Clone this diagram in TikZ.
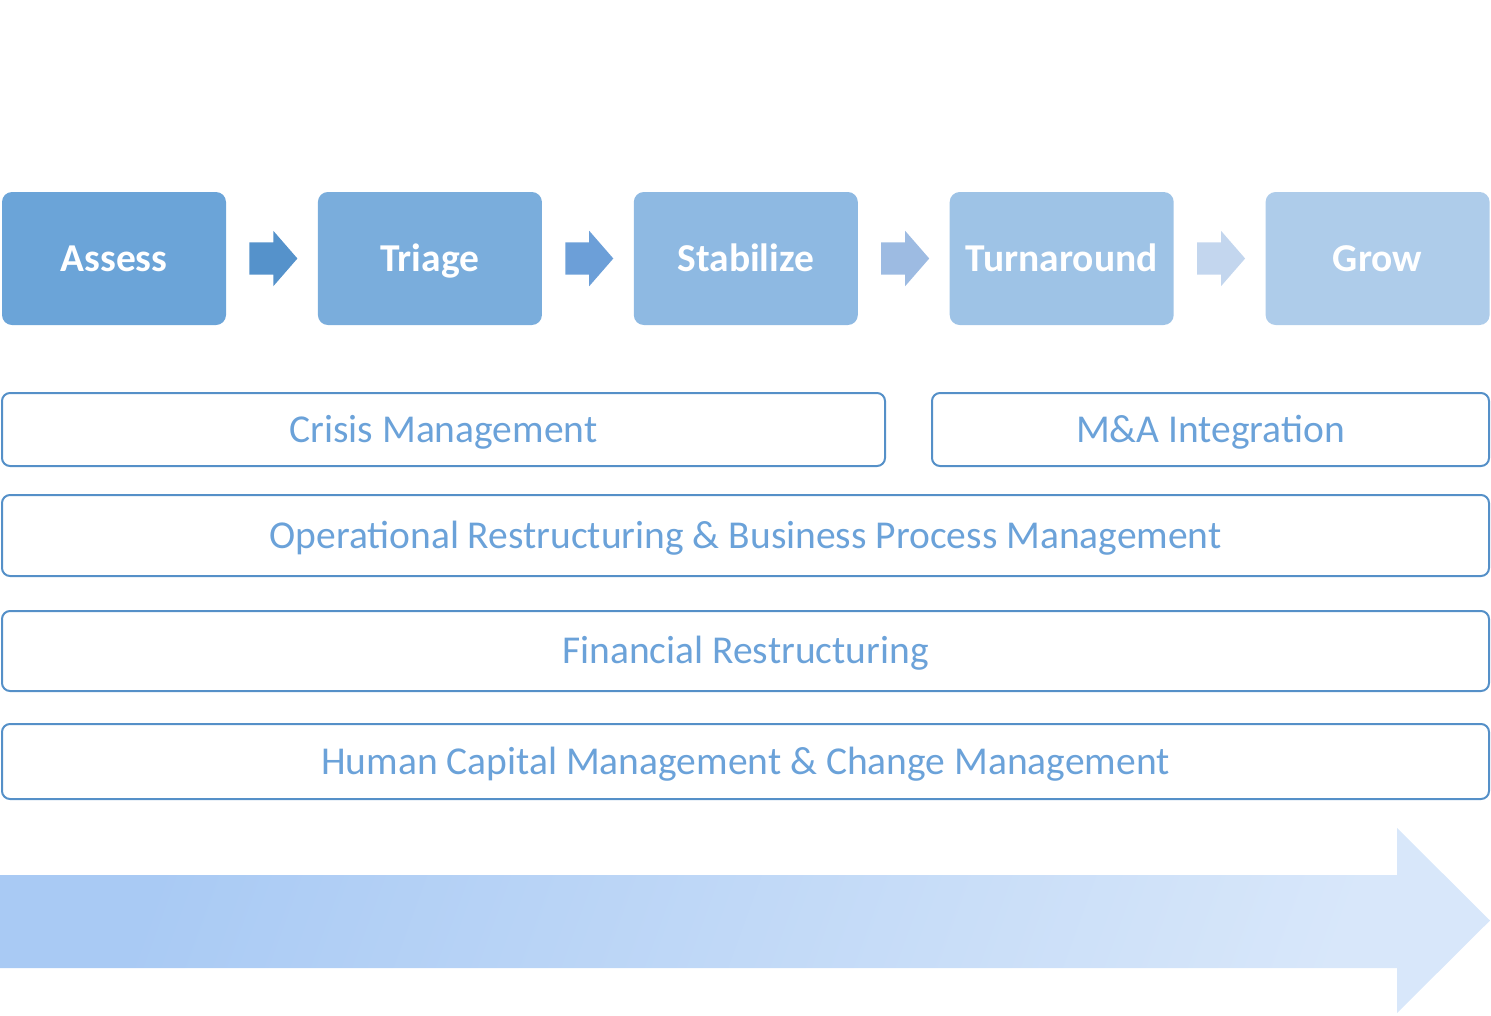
\documentclass[tikz,border=0pt]{standalone}
\usepackage{fontspec}
\setmainfont{Carlito}
\usetikzlibrary{positioning,shapes.arrows}
\definecolor{phaseA}{HTML}{6BA4D8}
\definecolor{phaseB}{HTML}{7AADDC}
\definecolor{phaseC}{HTML}{8EB9E2}
\definecolor{phaseD}{HTML}{9EC3E6}
\definecolor{phaseE}{HTML}{AECCEA}
\definecolor{arrowA}{HTML}{5592CB}
\definecolor{arrowB}{HTML}{6C9FD8}
\definecolor{arrowC}{HTML}{9DBBE2}
\definecolor{arrowD}{HTML}{C3D6EE}
\definecolor{arealine}{HTML}{5590C8}
\definecolor{areatext}{HTML}{6BA2D9}
\definecolor{flowleft}{HTML}{A9CAF4}
\definecolor{flowright}{HTML}{D8E7FA}
\begin{document}
\begin{tikzpicture}[x=1pt, y=-1pt, node distance=91.5pt,
                    phase node/.style={rectangle, rounded corners=10pt, minimum width=224pt,
                      minimum height=133pt, inner sep=0pt, text=white, text height=31pt, text depth=6pt,
                      font=\fontsize{39.5}{47}\selectfont\bfseries},
                    phase arrow/.style={single arrow, minimum height=48pt, minimum width=55pt,
                      single arrow head extend=11.5pt, single arrow tip angle=98,
                      inner xsep=0pt, inner ysep=16pt},
                    area node/.style={rectangle, rounded corners=8pt, draw=arealine, line width=2pt,
                      inner sep=0pt, text=areatext, text height=31pt, text depth=6pt,
                      font=\fontsize{39.5}{47}\selectfont}]

  \useasboundingbox (0,0) rectangle (1491,1015);

  % phases
  \node[phase node, fill=phaseA] (assess) at (114,258.5) {Assess};
  \node[phase node, fill=phaseB] (triage) [right=of assess] {Triage};
  \node[phase node, fill=phaseC] (stab) [right=of triage] {Stabilize};
  \node[phase node, fill=phaseD] (turn) [right=of stab] {Turnaround};
  \node[phase node, fill=phaseE] (grow) [right=of turn] {Grow};

  \node[phase arrow, fill=arrowA, anchor=west] (at) [right=23pt of assess] {};
  \node[phase arrow, fill=arrowB, anchor=west] (ts) [right=23pt of triage] {};
  \node[phase arrow, fill=arrowC, anchor=west] (st) [right=23pt of stab] {};
  \node[phase arrow, fill=arrowD, anchor=west] (tg) [right=23pt of turn] {};

  % service areas
  \node[area node, minimum width=883pt, minimum height=73pt] (crisis) at (443.5,429.5) {Crisis Management};
  \node[area node, minimum width=557pt, minimum height=73pt] (ma) at (1210.5,429.5) {M\&A Integration};
  \node[area node, minimum width=1487pt, minimum height=81pt] (ops) at (745.5,535.5)
    {Operational Restructuring \& Business Process Management};
  \node[area node, minimum width=1487pt, minimum height=80pt] (fin) at (745.5,651) {Financial Restructuring};
  \node[area node, minimum width=1487pt, minimum height=75pt] (hcm) at (745.5,761.5)
    {Human Capital Management \& Change Management};

  % big arrow
  \shade[left color=flowleft, right color=flowright, shading angle=70]
    (0,875) -- (1397,875) -- (1397,828) -- (1490,920.5) -- (1397,1013) -- (1397,968) -- (0,968) -- cycle;

\end{tikzpicture}
\end{document}
